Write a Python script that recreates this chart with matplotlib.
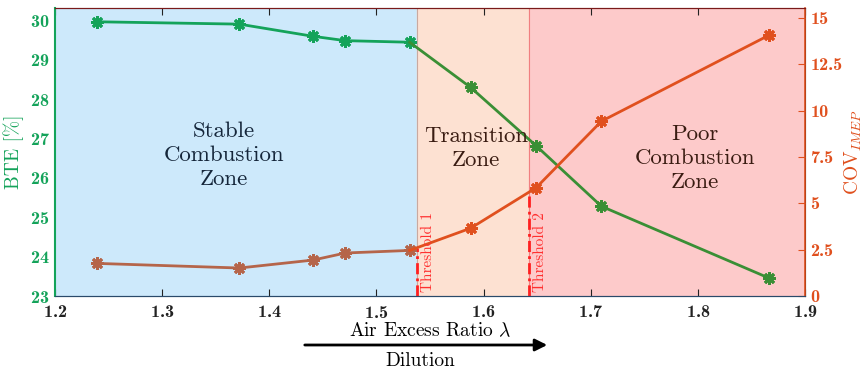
import numpy as np
import matplotlib.pyplot as plt

lam = [1.239, 1.372, 1.441, 1.471, 1.531, 1.588, 1.649, 1.710, 1.866]
bte = [29.97, 29.91, 29.60, 29.49, 29.45, 28.30, 26.82, 25.28, 23.46]
cov = [1.76, 1.51, 1.94, 2.32, 2.46, 3.66, 5.84, 9.43, 14.06]
thr1 = 1.538
thr2 = 1.642

plt.rcParams['mathtext.fontset'] = 'cm'
plt.rcParams['font.family'] = ['cmr10', 'DejaVu Serif']
plt.rcParams['axes.formatter.use_mathtext'] = True

c_green1 = '#14a35a'
c_green2 = '#3a8f35'
c_or1 = '#b5654a'
c_or2 = '#e0501e'

fig = plt.figure(figsize=(8.63, 3.72), dpi=100)
ax = fig.add_axes([0.0637, 0.2043, 0.8691, 0.7742])
ax2 = ax.twinx()

ax.set_xlim(1.2, 1.9)
ax.set_ylim(23, 30.32)
ax2.set_ylim(0, 15.54)

ax.axvspan(1.2, thr1, color='#cde9fb', zorder=0)
ax.axvspan(thr1, thr2, color='#fde1d2', zorder=0)
ax.axvspan(thr2, 1.9, color='#fdcaca', zorder=0)
ax.axvline(thr1, color='#c9a9a0', lw=0.8, zorder=1)
ax.axvline(thr2, color='#f08080', lw=0.8, zorder=1)

mk = dict(marker=(8, 2, 0), markersize=9, markeredgewidth=2)
ax.plot(lam[:5], bte[:5], color=c_green1, lw=2, **mk, zorder=3)
ax.plot(lam[4:], bte[4:], color=c_green2, lw=2, zorder=3)
ax.plot(lam[5:], bte[5:], color=c_green2, lw=0, **mk, zorder=3)

ax2.plot(lam[:5], cov[:5], color=c_or1, lw=2, **mk, zorder=3)
ax2.plot(lam[4:], cov[4:], color=c_or2, lw=2, zorder=3)
ax2.plot(lam[5:], cov[5:], color=c_or2, lw=0, **mk, zorder=3)

# threshold markers
c1 = np.interp(thr1, lam, cov)
c2 = np.interp(thr2, lam, cov)
ax2.plot([thr1, thr1], [0, c1], color='#ff2020', ls=(0, (4, 1.5, 1, 1.5)), lw=2, zorder=2)
ax2.plot([thr2, thr2], [0, c2], color='#ff2020', ls=(0, (4, 1.5, 1, 1.5)), lw=2, zorder=2)
ax2.text(thr1 + 0.004, 0.2, 'Threshold 1', rotation=90, color='#ff3030',
         fontsize=11, ha='left', va='bottom')
ax2.text(thr2 + 0.004, 0.2, 'Threshold 2', rotation=90, color='#ff3030',
         fontsize=11, ha='left', va='bottom')

ax.text(1.358, 26.57, 'Stable\nCombustion\nZone', ha='center', va='center',
        fontsize=16.5, color='#15263a', linespacing=1.3)
ax.text(1.593, 26.75, 'Transition\nZone', ha='center', va='center',
        fontsize=16.5, color='#3a1c12', linespacing=1.3)
ax.text(1.797, 26.5, 'Poor\nCombustion\nZone', ha='center', va='center',
        fontsize=16.5, color='#3a1c12', linespacing=1.3)

ax.set_xticks([1.2, 1.3, 1.4, 1.5, 1.6, 1.7, 1.8, 1.9])
ax.set_yticks(range(23, 31))
ax2.set_yticks([0, 2.5, 5, 7.5, 10, 12.5, 15])
ax2.set_yticklabels(['0', '2.5', '5', '7.5', '10', '12.5', '15'])

for lab in ax.get_xticklabels():
    lab.set_fontfamily('cmb10'); lab.set_fontsize(13)
for lab in ax.get_yticklabels():
    lab.set_fontfamily('cmb10'); lab.set_fontsize(13); lab.set_color(c_green1)
for lab in ax2.get_yticklabels():
    lab.set_fontfamily('cmb10'); lab.set_fontsize(13); lab.set_color(c_or2)

ax.tick_params(axis='x', direction='in', top=True, length=5, pad=6, colors='#222222')
ax.tick_params(axis='y', direction='in', length=0, pad=4, colors=c_green1)
ax2.tick_params(axis='y', direction='in', length=5, pad=4, colors=c_or2)
for lab in ax.get_xticklabels():
    lab.set_color('#222222')

ax.spines['left'].set_color(c_green1)
ax.spines['left'].set_linewidth(1.5)
ax2.spines['left'].set_visible(False)
ax2.spines['right'].set_color(c_or2)
ax2.spines['right'].set_linewidth(1.2)
ax2.spines['top'].set_color('#7a1a1a')
ax2.spines['bottom'].set_color('#2a4a6a')
ax.spines['bottom'].set_color('#2a4a6a')
ax.spines['top'].set_color('#7a1a1a')

ax.set_ylabel('BTE [%]', color=c_green1, fontsize=14, labelpad=4)
ax2.set_ylabel(r'COV$_{\mathit{IMEP}}$', color=c_or2, fontsize=14, labelpad=0)
ax.set_xlabel(r'Air Excess Ratio $\lambda$', fontsize=14, labelpad=0)

ax.annotate('', xy=(550 / 863, 1 - 345 / 372), xytext=(302 / 863, 1 - 345 / 372),
            xycoords='figure fraction',
            arrowprops=dict(arrowstyle='-|>', color='black', lw=2, mutation_scale=18))
fig.text(420 / 863, 1 - 361 / 372, 'Dilution', ha='center', va='center', fontsize=14)

fig.savefig('out.png', dpi=100)
